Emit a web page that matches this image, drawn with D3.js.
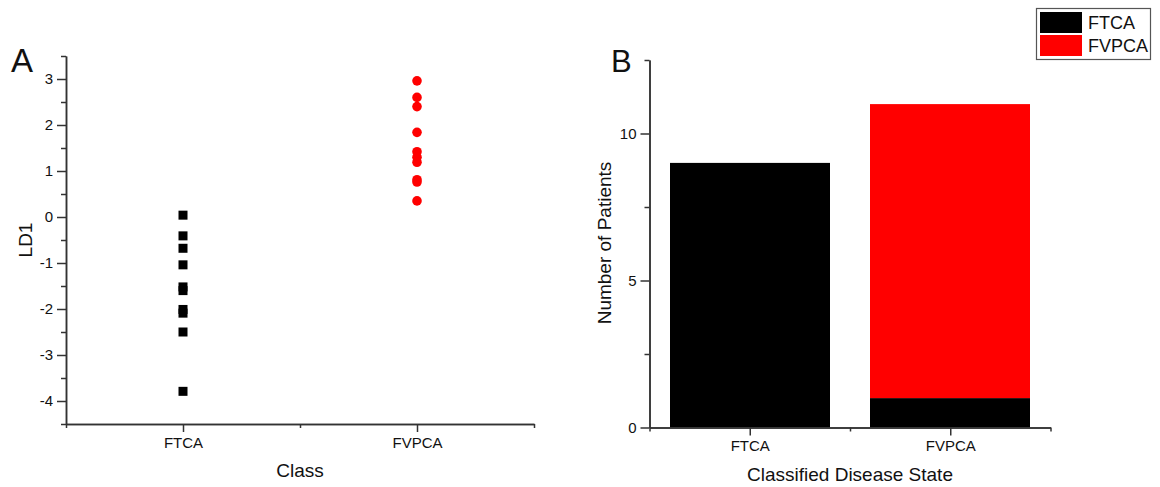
<!DOCTYPE html>
<html><head><meta charset="utf-8">
<script src="https://cdn.jsdelivr.net/npm/d3@7"></script>
<style>
body{margin:0;background:#fff;}
text{font-family:"Liberation Sans",Arial,sans-serif;fill:#111;}
</style></head>
<body><svg id="c" width="1160" height="487"></svg>
<script>
// ---- data ----
const classes = ["FTCA", "FVPCA"];
const ld1FTCA = [0.04, -0.41, -0.68, -1.04, -1.52, -1.6, -2.01, -2.09, -2.5, -3.79];
const ld1FVPCA = [2.96, 2.6, 2.4, 1.84, 1.42, 1.3, 1.19, 0.81, 0.76, 0.35];
const ldTicks = [-4, -3, -2, -1, 0, 1, 2, 3];
const ldMinor = [-4.5, -3.5, -2.5, -1.5, -0.5, 0.5, 1.5, 2.5, 3.5];
const classifiedAsFTCA = [9, 1];   // black segment per classified state
const classifiedAsFVPCA = [0, 10]; // red segment per classified state
const countTicks = [0, 5, 10];
const countMinor = [2.5, 7.5, 12.5];
const seriesNames = ["FTCA", "FVPCA"];
const seriesColors = ["#000000", "#ff0000"];

const svg = d3.select("#c");
const axisColor = "#333";

function styleAxis(g){
  g.selectAll("path,line").attr("stroke", axisColor).attr("stroke-width", 1.5);
  g.selectAll("text").attr("font-size", 15).attr("fill", "#111");
}

// ---- Panel A ----
const ax = d3.scaleLinear().domain([0.5, 2.5]).range([66, 534]);
const ay = d3.scaleLinear().domain([-4.5, 3.5]).range([424, 56]);

const gA = svg.append("g");
gA.append("g").attr("transform", "translate(0,424)")
  .call(d3.axisBottom(ax).tickValues([0.5, 1.5, 2.5]).tickSize(4).tickSizeOuter(0).tickFormat(""))
  .call(styleAxis);
gA.append("g").attr("transform", "translate(0,424)")
  .call(d3.axisBottom(ax).tickValues([1, 2]).tickSize(8).tickSizeOuter(0).tickPadding(5)
    .tickFormat(d => classes[d - 1]))
  .call(styleAxis);
gA.append("g").attr("transform", "translate(66,0)")
  .call(d3.axisLeft(ay).tickValues(ldMinor).tickSize(5).tickSizeOuter(0).tickFormat(""))
  .call(styleAxis);
gA.append("g").attr("transform", "translate(66,0)")
  .call(d3.axisLeft(ay).tickValues(ldTicks).tickSize(9).tickSizeOuter(0).tickPadding(4)
    .tickFormat(d3.format("d")))
  .call(styleAxis);
gA.selectAll(".tick text").filter(function(){return this.textContent.startsWith("−");})
  .text(function(){return this.textContent.replace("−", "-");});

gA.selectAll("rect.pt").data(ld1FTCA).join("rect")
  .attr("x", ax(1) - 4.5).attr("y", d => ay(d) - 4.5)
  .attr("width", 9).attr("height", 9).attr("fill", "#000");
gA.selectAll("circle.pt").data(ld1FVPCA).join("circle")
  .attr("cx", ax(2)).attr("cy", d => ay(d)).attr("r", 4.8).attr("fill", "#ff0000");

gA.append("text").attr("x", 300).attr("y", 477).attr("text-anchor", "middle")
  .attr("font-size", 19).text("Class");
gA.append("text").attr("transform", "translate(32,240) rotate(-90)").attr("text-anchor", "middle")
  .attr("font-size", 19).text("LD1");
gA.append("text").attr("x", 11).attr("y", 72).attr("font-size", 33).text("A");

// ---- Panel B ----
const bx = d3.scaleLinear().domain([0.5, 2.5]).range([649.5, 1050.5]);
const band = d3.scaleBand().domain(classes).range([650, 1050]).paddingInner(0.2).paddingOuter(0.1);
const by = d3.scaleLinear().domain([0, 12.5]).range([427.5, 60]);

const stackData = classes.map((c, i) => ({cls: c, FTCA: classifiedAsFTCA[i], FVPCA: classifiedAsFVPCA[i]}));
const stacked = d3.stack().keys(seriesNames)(stackData);
const gB = svg.append("g");
gB.selectAll("g.layer").data(stacked).join("g")
  .attr("fill", (d, i) => seriesColors[i])
  .selectAll("rect").data(d => d).join("rect")
  .attr("x", d => band(d.data.cls)).attr("width", band.bandwidth())
  .attr("y", d => by(d[1])).attr("height", d => by(d[0]) - by(d[1]));

gB.append("g").attr("transform", "translate(0,427.5)")
  .call(d3.axisBottom(bx).tickValues([0.5, 1.5, 2.5]).tickSize(4).tickSizeOuter(0).tickFormat(""))
  .call(styleAxis);
gB.append("g").attr("transform", "translate(0,427.5)")
  .call(d3.axisBottom(bx).tickValues([1, 2]).tickSize(8).tickSizeOuter(0).tickPadding(5)
    .tickFormat(d => classes[d - 1]))
  .call(styleAxis);
gB.append("g").attr("transform", "translate(649.5,0)")
  .call(d3.axisLeft(by).tickValues(countMinor).tickSize(5).tickSizeOuter(0).tickFormat(""))
  .call(styleAxis);
gB.append("g").attr("transform", "translate(649.5,0)")
  .call(d3.axisLeft(by).tickValues(countTicks).tickSize(9).tickSizeOuter(0).tickPadding(4)
    .tickFormat(d3.format("d")))
  .call(styleAxis);

gB.append("text").attr("x", 850).attr("y", 481).attr("text-anchor", "middle")
  .attr("font-size", 19).text("Classified Disease State");
gB.append("text").attr("transform", "translate(611,243) rotate(-90)").attr("text-anchor", "middle")
  .attr("font-size", 19).text("Number of Patients");
gB.append("text").attr("x", 611).attr("y", 72).attr("font-size", 31).text("B");

// ---- Legend ----
const lg = svg.append("g");
lg.append("rect").attr("x", 1036.5).attr("y", 8.5).attr("width", 114).attr("height", 51)
  .attr("fill", "#fff").attr("stroke", "#555").attr("stroke-width", 1.2);
seriesNames.forEach((s, i) => {
  lg.append("rect").attr("x", 1040).attr("y", 12 + i * 23).attr("width", 42).attr("height", 21)
    .attr("fill", seriesColors[i]);
  lg.append("text").attr("x", 1088).attr("y", 29 + i * 23).attr("font-size", 18).text(s);
});
</script></body></html>
